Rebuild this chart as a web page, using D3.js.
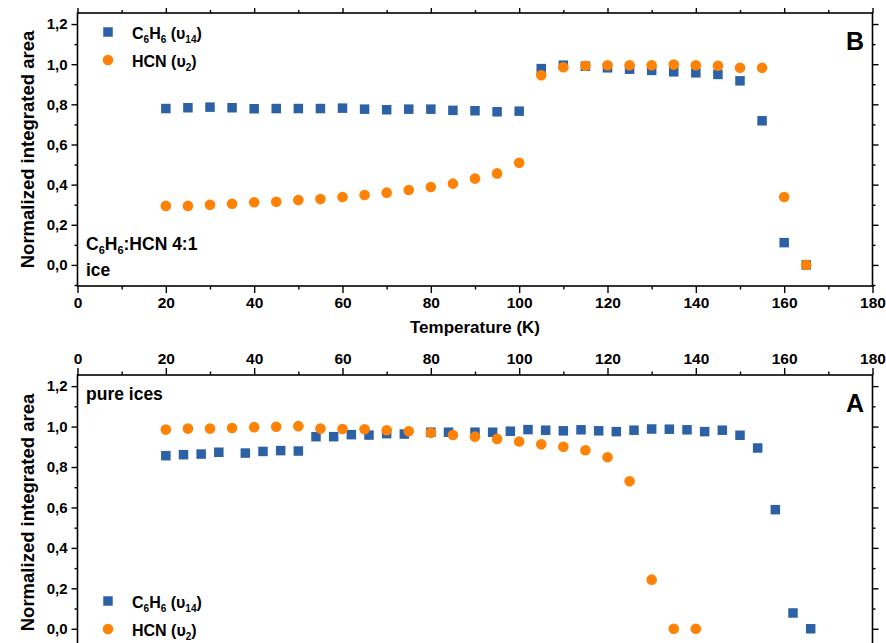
<!DOCTYPE html>
<html><head><meta charset="utf-8">
<script src="https://cdn.jsdelivr.net/npm/d3@7"></script>
<style>body{margin:0;background:#fff}svg{display:block;font-family:"Liberation Sans",Arial,sans-serif;font-weight:bold}</style>
</head><body><svg id="c" width="886" height="643"></svg>
<script>
// ---- Data ----
const tempsB = [20,25,30,35,40,45,50,55,60,65,70,75,80,85,90,95,100,105,110,115,120,125,130,135,140,145,150,155,160,165];
const c6h6B = [0.779,0.783,0.786,0.783,0.778,0.779,0.779,0.779,0.781,0.776,0.773,0.776,0.776,0.770,0.768,0.763,0.766,0.978,0.995,0.990,0.982,0.975,0.969,0.962,0.957,0.949,0.917,0.718,0.111,0.0];
const hcnB = [0.294,0.294,0.300,0.305,0.312,0.315,0.323,0.328,0.338,0.348,0.360,0.373,0.388,0.405,0.430,0.456,0.509,0.945,0.985,0.992,0.995,0.995,0.995,0.998,0.995,0.992,0.982,0.982,0.338,0.0];
const tempsA_c6h6 = [20,24,28,32,38,42,46,50,54,58,62,66,70,74,80,84,90,94,98,102,106,110,114,118,122,126,130,134,138,142,146,150,154,158,162,166];
const c6h6A = [0.856,0.861,0.864,0.873,0.869,0.877,0.881,0.879,0.950,0.950,0.960,0.958,0.965,0.963,0.972,0.972,0.972,0.972,0.977,0.985,0.982,0.979,0.984,0.979,0.975,0.982,0.988,0.987,0.984,0.975,0.982,0.957,0.894,0.589,0.078,0.0];
const tempsA_hcn = [20,25,30,35,40,45,50,55,60,65,70,75,80,85,90,95,100,105,110,115,120,125,130,135,140];
const hcnA = [0.985,0.990,0.990,0.993,0.997,0.999,1.002,0.990,0.988,0.987,0.982,0.977,0.969,0.958,0.950,0.939,0.926,0.912,0.900,0.883,0.848,0.729,0.243,0.0,0.0];
const xTickValues = [0,20,40,60,80,100,120,140,160,180];
const xMinorValues = [10,30,50,70,90,110,130,150,170];
const yTickValues = [0,0.2,0.4,0.6,0.8,1.0,1.2];
const yMinorValues = [-0.1,0.1,0.3,0.5,0.7,0.9,1.1];

const BLUE = "#2c62a5", ORANGE = "#ff8205";
const svg = d3.select("#c");
const X0 = 77.5, X1 = 872.5;
const x = d3.scaleLinear().domain([0,180]).range([X0, X1]);
const fmt = v => d3.format(".1f")(v).replace(".", ",").replace("-0,0","0,0");

function panel(top, bottom, xLabelsTop, opts) {
  const y = d3.scaleLinear().domain([-0.105, 1.255]).range([bottom, top]);
  const g = svg.append("g");
  g.append("rect").attr("x", X0).attr("y", top).attr("width", X1 - X0).attr("height", bottom - top)
    .attr("fill", "none").attr("stroke", "#000").attr("stroke-width", 1.6);

  const styleAxis = (sel, fs) => {
    sel.select(".domain").remove();
    sel.selectAll("line").attr("stroke", "#000").attr("stroke-width", 1.4);
    sel.selectAll("text").attr("font-size", fs).attr("font-weight", "bold")
      .attr("font-family", '"Liberation Sans",Arial,sans-serif').attr("fill", "#000");
  };
  const yl = g.append("g").attr("transform", `translate(${X0},0)`)
    .call(d3.axisLeft(y).tickValues(yTickValues).tickFormat(fmt).tickSize(6).tickPadding(4));
  styleAxis(yl, 15);
  const ylm = g.append("g").attr("transform", `translate(${X0},0)`)
    .call(d3.axisLeft(y).tickValues(yMinorValues).tickFormat("").tickSize(3));
  styleAxis(ylm, 15);
  const yr = g.append("g").attr("transform", `translate(${X1},0)`)
    .call(d3.axisRight(y).tickValues(yTickValues).tickFormat("").tickSize(6));
  styleAxis(yr, 15);
  const yrm = g.append("g").attr("transform", `translate(${X1},0)`)
    .call(d3.axisRight(y).tickValues(yMinorValues).tickFormat("").tickSize(3));
  styleAxis(yrm, 15);
  if (xLabelsTop) {
    const xt = g.append("g").attr("transform", `translate(0,${top})`)
      .call(d3.axisTop(x).tickValues(xTickValues).tickFormat(d3.format("d")).tickSize(7).tickPadding(4));
    styleAxis(xt, 15.5);
    const xtm = g.append("g").attr("transform", `translate(0,${top})`)
      .call(d3.axisTop(x).tickValues(xMinorValues).tickFormat("").tickSize(3.5));
    styleAxis(xtm, 15);
  } else {
    const xb = g.append("g").attr("transform", `translate(0,${bottom})`)
      .call(d3.axisBottom(x).tickValues(xTickValues).tickFormat(d3.format("d")).tickSize(7).tickPadding(4));
    styleAxis(xb, 15.5);
    const xbm = g.append("g").attr("transform", `translate(0,${bottom})`)
      .call(d3.axisBottom(x).tickValues(xMinorValues).tickFormat("").tickSize(3.5));
    styleAxis(xbm, 15);
    const xt = g.append("g").attr("transform", `translate(0,${top})`)
      .call(d3.axisTop(x).tickValues(xTickValues).tickFormat("").tickSize(5));
    styleAxis(xt, 15);
    const xtm = g.append("g").attr("transform", `translate(0,${top})`)
      .call(d3.axisTop(x).tickValues(xMinorValues).tickFormat("").tickSize(3));
    styleAxis(xtm, 15);
  }
  g.append("text").attr("transform", `translate(34,${(top + bottom) / 2}) rotate(-90)`)
    .attr("text-anchor", "middle").attr("font-size", 18.5).text("Normalized integrated area");

  const clip = "clip" + top;
  svg.append("clipPath").attr("id", clip).append("rect")
    .attr("x", X0).attr("y", top).attr("width", X1 - X0).attr("height", bottom - top);
  const d = g.append("g").attr("clip-path", `url(#${clip})`);
  const S = 9.5;
  d.selectAll("rect.sq").data(opts.sqT.map((t, i) => [t, opts.sqV[i]])).join("rect")
    .attr("x", p => x(p[0]) - S / 2).attr("y", p => y(p[1]) - S / 2)
    .attr("width", S).attr("height", S).attr("fill", BLUE);
  d.selectAll("circle.ci").data(opts.ciT.map((t, i) => [t, opts.ciV[i]])).join("circle")
    .attr("cx", p => x(p[0])).attr("cy", p => y(p[1])).attr("r", 5.3).attr("fill", ORANGE);

  const lg = g.append("g");
  lg.append("rect").attr("x", 108 - S / 2).attr("y", opts.legY - S / 2).attr("width", S).attr("height", S).attr("fill", BLUE);
  lg.append("circle").attr("cx", 108).attr("cy", opts.legY + 28).attr("r", 5.3).attr("fill", ORANGE);
  const t1 = lg.append("text").attr("x", 132).attr("y", opts.legY + 7).attr("font-size", 16);
  t1.append("tspan").text("C");
  t1.append("tspan").attr("font-size", 10).attr("dy", 4).text("6");
  t1.append("tspan").attr("dy", -4).text("H");
  t1.append("tspan").attr("font-size", 10).attr("dy", 4).text("6");
  t1.append("tspan").attr("dy", -4).text(" (υ");
  t1.append("tspan").attr("font-size", 10).attr("dy", 4).text("14");
  t1.append("tspan").attr("dy", -4).text(")");
  const t2 = lg.append("text").attr("x", 132).attr("y", opts.legY + 35).attr("font-size", 16);
  t2.append("tspan").text("HCN (υ");
  t2.append("tspan").attr("font-size", 10).attr("dy", 4).text("2");
  t2.append("tspan").attr("dy", -4).text(")");

  g.append("text").attr("x", 864).attr("y", opts.letterY).attr("text-anchor", "end")
    .attr("font-size", 25).text(opts.letter);
  return g;
}

const gB = panel(13, 286, false, {sqT: tempsB, sqV: c6h6B, ciT: tempsB, ciV: hcnB, legY: 32, letter: "B", letterY: 50});
const note = gB.append("text").attr("x", 86).attr("y", 250).attr("font-size", 17.5);
note.append("tspan").text("C");
note.append("tspan").attr("font-size", 11).attr("dy", 4).text("6");
note.append("tspan").attr("dy", -4).text("H");
note.append("tspan").attr("font-size", 11).attr("dy", 4).text("6");
note.append("tspan").attr("dy", -4).text(":HCN 4:1");
gB.append("text").attr("x", 86).attr("y", 276).attr("font-size", 17.5).text("ice");
svg.append("text").attr("x", 475).attr("y", 333).attr("text-anchor", "middle").attr("font-size", 17)
  .text("Temperature (K)");

const gA = panel(375, 650, true, {sqT: tempsA_c6h6, sqV: c6h6A, ciT: tempsA_hcn, ciV: hcnA, legY: 601, letter: "A", letterY: 412});
gA.append("text").attr("x", 86).attr("y", 400).attr("font-size", 17.5).text("pure ices");
</script></body></html>
